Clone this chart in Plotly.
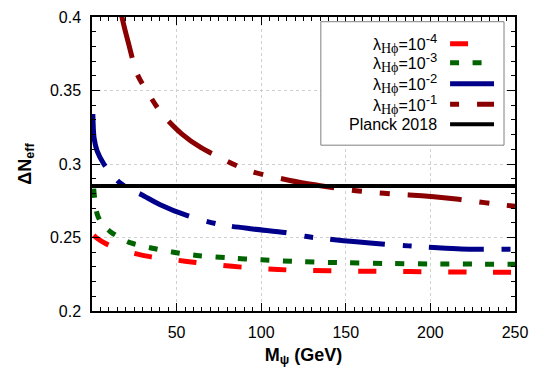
import plotly.graph_objects as go

# ---- data ----
m_l4 = [1, 3, 8, 15, 25, 35, 50, 60, 75, 90, 110, 130, 150, 175, 200, 225, 250]
dn_l4 = [0.2515, 0.2495, 0.2459, 0.2425, 0.2392, 0.2368, 0.2346, 0.2332, 0.2312,
         0.2297, 0.2282, 0.2275, 0.2272, 0.2269, 0.2267, 0.2265, 0.2263]

m_l3 = [1, 3, 6, 11, 17, 23, 35, 49, 62, 80, 100, 125, 150, 175, 200, 225, 250]
dn_l3 = [0.2832, 0.2662, 0.2590, 0.2538, 0.2495, 0.2463, 0.2429, 0.2398, 0.2378,
         0.2362, 0.2348, 0.2335, 0.2328, 0.2323, 0.2320, 0.2319, 0.2318]

m_l2 = [0.5, 1.2, 3, 7, 11, 16, 22, 29, 40, 56, 75, 95, 114, 126, 142, 173, 187,
        202, 218, 232, 250]
dn_l2 = [0.334, 0.318, 0.309, 0.300, 0.294, 0.2877, 0.2830, 0.2793, 0.2725, 0.2650,
         0.2590, 0.2558, 0.2534, 0.2508, 0.2486, 0.2454, 0.2443, 0.2432, 0.2422,
         0.2420, 0.2420]

m_l1 = [16.5, 17.8, 21.7, 26.7, 33.5, 41.4, 53, 64, 78, 92, 117, 134, 150, 165,
        180, 195, 208, 225, 240, 250]
dn_l1 = [0.408, 0.3995, 0.3815, 0.3612, 0.3476, 0.334, 0.3205, 0.3114, 0.3030,
         0.2957, 0.2888, 0.2854, 0.2826, 0.2808, 0.2795, 0.2784, 0.2771, 0.2748,
         0.2725, 0.2713]

planck_m = [0, 250]
planck_dn = [0.285, 0.285]

x_ticks = [50, 100, 150, 200, 250]
y_ticks = [0.2, 0.25, 0.3, 0.35, 0.4]
y_ticktext = ["0.2", "0.25", "0.3", "0.35", "0.4"]

SUB = "<sub><span style='font-family:Liberation Serif;font-size:14px'>Hϕ</span></sub>"
SUP = "<sup><span style='font-size:13px'>{}</span></sup>"
labels = ["λ" + SUB + "=10" + SUP.format("-4"),
          "λ" + SUB + "=10" + SUP.format("-3"),
          "λ" + SUB + "=10" + SUP.format("-2"),
          "λ" + SUB + "=10" + SUP.format("-1"),
          "Planck 2018"]

RED = "#ff0000"
GREEN = "#006400"
BLUE = "#00008b"
DRED = "#8b0000"
BLACK = "#000000"

series = [
    (m_l4, dn_l4, RED, "18px,27px"),
    (m_l3, dn_l3, GREEN, "9px,13.5px"),
    (m_l2, dn_l2, BLUE, "55px,18px,9px,17px"),
    (m_l1, dn_l1, DRED, "54px,18px,10px,18px,10px,18px"),
]

fig = go.Figure()
for xs, ys, col, dash in series:
    fig.add_trace(go.Scatter(x=xs, y=ys, mode="lines",
                             line=dict(color=col, width=5, dash=dash,
                                       shape="spline", smoothing=0.8),
                             showlegend=False, hoverinfo="skip"))
fig.add_trace(go.Scatter(x=planck_m, y=planck_dn, mode="lines",
                         line=dict(color=BLACK, width=4),
                         showlegend=False, hoverinfo="skip"))

font_main = "Liberation Sans, Arial, sans-serif"

# page body has an 8px default margin; margins compensate for it
fig.update_layout(
    width=545, height=382,
    margin=dict(l=83.5, r=38, t=8.5, b=79, autoexpand=False),
    paper_bgcolor="white", plot_bgcolor="white",
    font=dict(family=font_main, size=16, color="black"),
    showlegend=False,
)

axis_common = dict(
    showline=True, linecolor="black", linewidth=1.5, mirror="allticks",
    ticks="inside", ticklen=8, tickwidth=1, tickcolor="black",
    showgrid=True, gridcolor="#d0d0d0", griddash="dot", gridwidth=1,
    zeroline=False, tickfont=dict(size=16, family=font_main),
    automargin=False,
)

fig.update_xaxes(
    range=[0, 250], tickmode="array", tickvals=x_ticks,
    minor=dict(dtick=5, tick0=0, ticks="inside", ticklen=4, tickcolor="black", showgrid=False),
    title=dict(text="<b>M<sub>ψ</sub> (GeV)</b>", font=dict(size=18, family=font_main), standoff=8),
    ticklabelstandoff=6,
    **axis_common,
)
fig.update_yaxes(
    range=[0.2, 0.4], tickmode="array", tickvals=y_ticks, ticktext=y_ticktext,
    minor=dict(dtick=0.01, tick0=0.2, ticks="inside", ticklen=4, tickcolor="black", showgrid=False),
    title=dict(text="<b>ΔN<sub>eff</sub></b>", font=dict(size=18, family=font_main), standoff=14),
    ticklabelstandoff=6,
    **axis_common,
)

# ---- custom legend (text on the left, sample on the right) ----
fig.add_shape(type="rect", xref="paper", yref="paper",
              x0=0.541, x1=0.974, y0=0.564, y1=0.984,
              line=dict(color="#808080", width=1), fillcolor="white", layer="above")
row_y = [0.909, 0.8445, 0.7732, 0.703, 0.635]
leg_dash = ["18px,27px", "9px,13.5px", "solid", "9px,18px,17px,18px", "solid"]
leg_col = [RED, GREEN, BLUE, DRED, BLACK]
for lab, yy, dsh, col in zip(labels, row_y, leg_dash, leg_col):
    fig.add_annotation(xref="paper", yref="paper", x=0.8206, y=yy, text=lab,
                       showarrow=False, xanchor="right", yanchor="middle",
                       font=dict(size=16, family=font_main, color="black"))
    fig.add_shape(type="line", xref="paper", yref="paper",
                  x0=0.8465, x1=0.9504, y0=yy, y1=yy,
                  line=dict(color=col, width=5 if col != BLACK else 4, dash=dsh),
                  layer="above")

fig.write_html("out.html")
